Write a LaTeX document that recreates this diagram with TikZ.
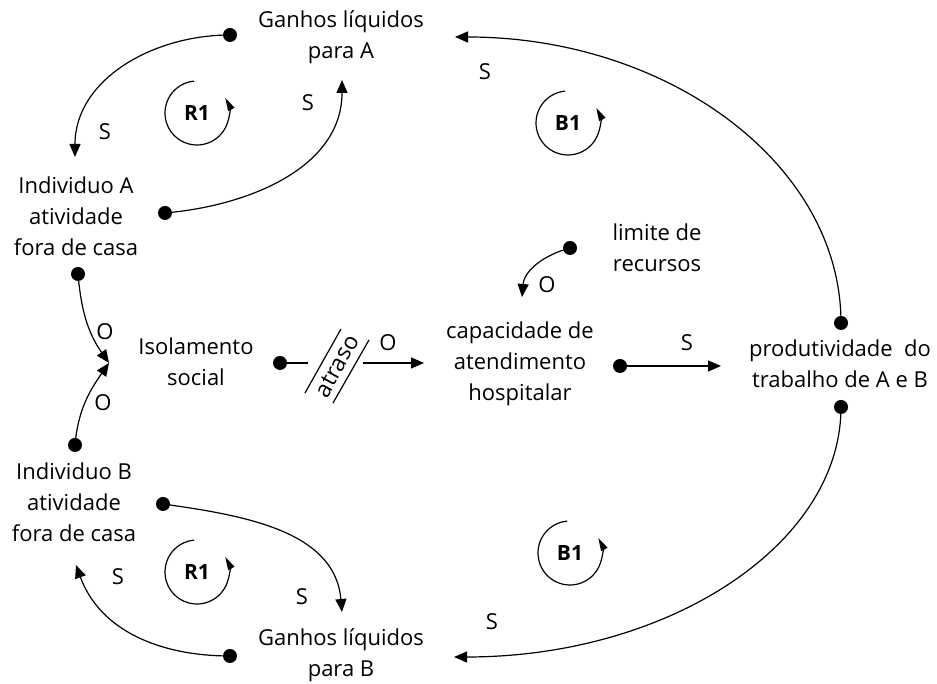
\documentclass[tikz,border=0pt]{standalone}
\usepackage{fontspec}
\setmainfont{Open Sans}
\usetikzlibrary{arrows.meta}
\begin{document}
\begin{tikzpicture}[x=1pt,y=1pt,
  lbl/.style={font=\fontsize{22}{31}\selectfont, align=center, inner sep=0pt},
  sgn/.style={font=\fontsize{22}{26}\selectfont, inner sep=0pt},
  dly/.style={font=\fontsize{23}{26}\selectfont, inner sep=0pt},
  loopl/.style={font=\bfseries\fontsize{21}{24}\selectfont, inner sep=0pt},
  dot/.style={circle, fill=black, inner sep=0pt, minimum size=14pt},
  link/.style={line width=1.2pt, -{Triangle[length=13pt,width=11pt]}},
  plain/.style={line width=1.2pt},
  looparrow/.style={line width=1.2pt, -{Triangle[length=13pt,width=7pt]}},
]
\path[use as bounding box, fill=white] (0,0) rectangle (937,684);

% variables
\node[lbl] (GA) at (341,647) {Ganhos líquidos\\para A};
\node[lbl] (IA) at (76,468) {Individuo A\\atividade\\fora de casa};
\node[lbl] (Iso) at (196,322) {Isolamento\\social};
\node[lbl] (Cap) at (520,320) {capacidade de\\atendimento\\hospitalar};
\node[lbl] (Lim) at (657,436) {limite de\\recursos};
\node[lbl] (Prod) at (840,320) {produtividade~ do\\trabalho de A e B};
\node[lbl] (IB) at (74,182) {Individuo B\\atividade\\fora de casa};
\node[lbl] (GB) at (341,29) {Ganhos líquidos\\para B};

% dots (link origins)
\node[dot] (dA1) at (230,649) {};
\node[dot] (dA2) at (165,471) {};
\node[dot] (dA3) at (78,410) {};
\node[dot] (dB3) at (75,239) {};
\node[dot] (dIso) at (280,321) {};
\node[dot] (dLim) at (570,436) {};
\node[dot] (dCap) at (620,318) {};
\node[dot] (dP1) at (841,361) {};
\node[dot] (dP2) at (841,277) {};
\node[dot] (dB1) at (163,180) {};
\node[dot] (dB2) at (230,28) {};

% arrow ends
\coordinate (tA1) at (75,527);
\coordinate (tA2) at (342,604);
\coordinate (tIso) at (109,321);
\coordinate (cD1) at (308,321);
\coordinate (cD2) at (363,321);
\coordinate (tCap) at (424,321);
\coordinate (tLim) at (522,387);
\coordinate (tProd) at (721,318);
\coordinate (tGA) at (455,647);
\coordinate (tGB) at (454,27);
\coordinate (tB1) at (342,72);
\coordinate (tB2) at (76,119);

% links
\draw[link] (dA1.center) to[out=180,in=90] (tA1);
\draw[link] (dA2.center) to[out=5,in=-90] (tA2);
\draw[link] (dA3.center) to[out=-85,in=125] (tIso);
\draw[link] (dB3.center) to[out=85,in=-125] (tIso);
\draw[plain] (dIso.center) -- (cD1);
\draw[link] (cD2) -- (tCap);
\draw[link] (dLim.center) to[out=195,in=85] (tLim);
\draw[link] (dCap.center) -- (tProd);
\draw[link] (dP1.center) .. controls (841,520) and (668,647) .. (tGA);
\draw[link] (dP2.center) .. controls (841,139) and (668,27) .. (tGB);
\draw[link] (dB1.center) to[out=-8,in=95] (tB1);
\draw[link] (dB2.center) to[out=180,in=-70] (tB2);

% delay mark
\draw[plain] (305,291) -- (341,355);
\draw[plain] (333,281) -- (369,344);
\node[dly, rotate=61] (delay) at (337,318) {atraso};

% polarity labels
\node[sgn] at (105,552) {S};
\node[sgn] at (308,581) {S};
\node[sgn] at (105,352) {O};
\node[sgn] at (103,281) {O};
\node[sgn] at (388,341) {O};
\node[sgn] at (547,399) {O};
\node[sgn] at (687,341) {S};
\node[sgn] at (485,612) {S};
\node[sgn] at (492,62) {S};
\node[sgn] at (302,87) {S};
\node[sgn] at (118,107) {S};

% loop markers
\node[loopl] (R1a) at (197,571) {R1};
\draw[looparrow] (R1a.center) ++(95:32) arc[start angle=95,end angle=388,radius=32];
\node[loopl] (R1b) at (197,112) {R1};
\draw[looparrow] (R1b.center) ++(95:32) arc[start angle=95,end angle=388,radius=32];
\node[loopl] (B1a) at (568,561) {B1};
\draw[looparrow] (B1a.center) ++(95:32) arc[start angle=95,end angle=388,radius=32];
\node[loopl] (B1b) at (570,131) {B1};
\draw[looparrow] (B1b.center) ++(95:32) arc[start angle=95,end angle=388,radius=32];
\end{tikzpicture}
\end{document}
